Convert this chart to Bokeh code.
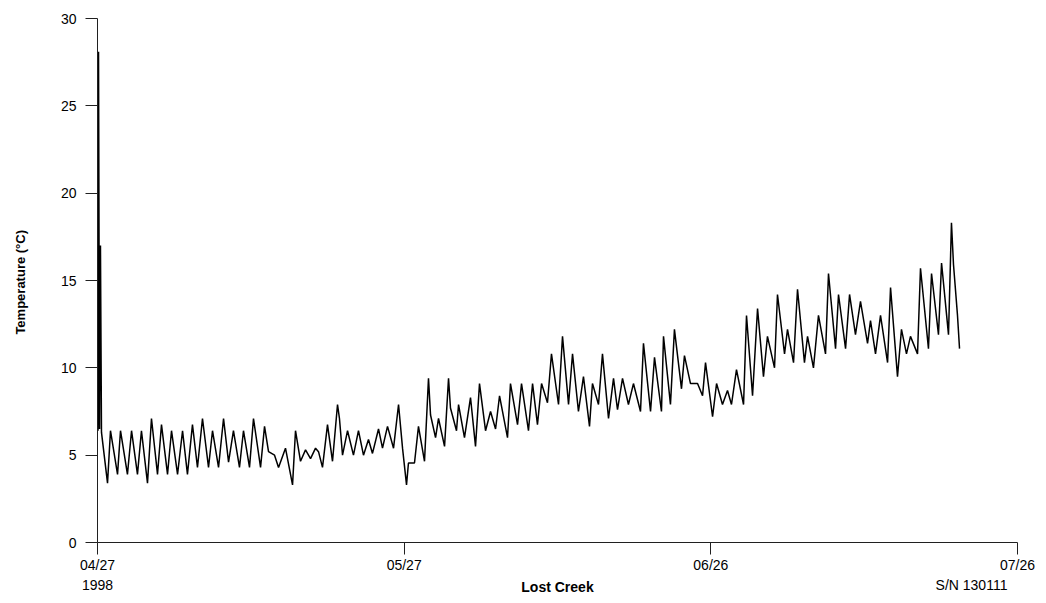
from bokeh.plotting import figure
from bokeh.models import FixedTicker, LinearAxis, Range1d
from bokeh.embed import file_html
from bokeh.resources import INLINE

# Logger readings: days since 04/27/1998 00:00 and water temperature (deg C)
days = [
    0.05, 0.10, 0.20, 0.29, 0.39, 0.98, 1.27, 1.96, 2.25, 2.93, 3.33, 3.91, 4.30, 4.89,
    5.28, 5.87, 6.26, 6.85, 7.24, 7.83, 8.32, 8.80, 9.29, 9.78, 10.27, 10.86, 11.25,
    11.84, 12.33, 12.82, 13.30, 13.89, 14.28, 14.87, 15.26, 15.95, 16.34, 16.73, 17.32,
    17.71, 18.39, 19.08, 19.37, 19.86, 20.35, 20.84, 21.33, 21.62, 22.01, 22.50, 22.99,
    23.48, 23.67, 23.97, 24.46, 25.04, 25.53, 26.02, 26.51, 26.90, 27.49, 27.88, 28.37,
    28.96, 29.45, 29.84, 30.23, 30.42, 31.01, 31.40, 31.99, 32.38, 32.58, 33.07, 33.36,
    33.95, 34.34, 34.53, 35.12, 35.32, 35.90, 36.49, 36.98, 37.37, 37.96, 38.45, 38.94,
    39.33, 40.11, 40.40, 41.09, 41.48, 42.16, 42.56, 43.04, 43.44, 44.02, 44.41, 45.10,
    45.49, 46.08, 46.47, 47.05, 47.54, 48.13, 48.42, 49.01, 49.40, 49.99, 50.48, 50.87,
    51.36, 51.94, 52.43, 53.12, 53.41, 54.10, 54.49, 55.17, 55.37, 56.05, 56.44, 57.13,
    57.42, 58.01, 58.70, 59.19, 59.48, 60.17, 60.56, 61.14, 61.63, 62.02, 62.51, 63.20,
    63.49, 64.08, 64.57, 65.15, 65.54, 66.23, 66.52, 67.21, 67.50, 68.09, 68.48, 69.16,
    69.46, 70.04, 70.53, 71.22, 71.51, 72.20, 72.49, 73.18, 73.57, 74.15, 74.64, 75.33,
    75.62, 76.11, 76.60, 77.29, 77.58, 78.26, 78.65, 79.14, 79.53, 80.22, 80.51, 81.29,
    81.59, 82.27, 82.57, 83.25, 83.54, 83.74, 84.13, 84.33,
]
temps = [
    6.4, 28.1, 6.5, 17.0, 6.3, 3.4, 6.4, 3.9, 6.4, 3.9, 6.4, 3.9, 6.4, 3.4,
    7.1, 3.9, 6.75, 3.9, 6.4, 3.9, 6.4, 3.9, 6.75, 4.3, 7.1, 4.3, 6.4,
    4.3, 7.1, 4.6, 6.4, 4.3, 6.4, 4.3, 7.1, 4.3, 6.65, 5.2, 5.0,
    4.3, 5.4, 3.3, 6.4, 4.65, 5.3, 4.8, 5.4, 5.2, 4.3, 6.75, 4.65,
    7.9, 7.1, 5.0, 6.4, 5.0, 6.4, 5.0, 5.9, 5.1, 6.5, 5.4, 6.65,
    5.4, 7.9, 5.4, 3.3, 4.55, 4.55, 6.65, 4.65, 9.4, 7.3, 6.0, 7.1,
    5.5, 9.4, 7.7, 6.4, 7.9, 6.0, 8.3, 5.5, 9.1, 6.4, 7.5, 6.5,
    8.4, 6.0, 9.1, 6.75, 9.1, 6.4, 9.1, 6.75, 9.1, 8.0, 10.8, 7.9,
    11.8, 7.9, 10.8, 7.5, 9.5, 6.65, 9.1, 7.9, 10.8, 7.1, 9.4, 7.6,
    9.4, 7.9, 9.1, 7.5, 11.4, 7.5, 10.6, 7.5, 11.8, 7.9, 12.2, 8.8,
    10.7, 9.1, 9.1, 8.4, 10.3, 7.2, 9.1, 7.9, 8.7, 7.9, 9.9, 7.9,
    13.0, 8.4, 13.4, 9.5, 11.8, 10.0, 14.2, 10.8, 12.2, 10.3, 14.5, 10.3,
    11.8, 10.0, 13.0, 10.8, 15.4, 11.1, 14.2, 11.1, 14.2, 11.9, 13.8, 11.4,
    12.7, 10.8, 13.0, 10.3, 14.6, 9.5, 12.2, 10.8, 11.8, 10.8, 15.7, 11.1,
    15.4, 11.9, 16.0, 11.9, 18.3, 15.9, 13.0, 11.1,
]

tick_days = [0, 30, 60, 90]
tick_labels = ["04/27", "05/27", "06/26", "07/26"]
y_ticks = [0, 5, 10, 15, 20, 25, 30]
year_label = "1998"
site_name = "Lost Creek"
serial_label = "S/N 130111"

FONT = "Liberation Sans"

p = figure(width=1046, height=603, output_backend="svg", toolbar_location=None,
           x_range=Range1d(0, 90), y_range=Range1d(0, 30),
           min_border_left=97, min_border_right=29, min_border_top=18,
           min_border_bottom=61, background_fill_color="white",
           border_fill_color="white", outline_line_color=None)

p.line(days, temps, line_color="black", line_width=1.5)

p.xgrid.visible = False
p.ygrid.visible = False

for ax in (p.xaxis[0], p.yaxis[0]):
    ax.axis_line_color = "#202020"
    ax.axis_line_width = 1
    ax.major_tick_line_color = "#202020"
    ax.minor_tick_line_color = None
    ax.major_tick_in = 0
    ax.major_label_text_font = FONT
    ax.major_label_text_font_size = "14px"
    ax.major_label_text_color = "black"

p.xaxis.ticker = FixedTicker(ticks=tick_days)
p.xaxis.major_label_overrides = dict(zip(tick_days, tick_labels))
p.xaxis.major_tick_out = 12
p.xaxis.major_label_standoff = 2

p.yaxis.ticker = FixedTicker(ticks=y_ticks)
p.yaxis.major_tick_out = 12
p.yaxis.major_label_standoff = 9
p.yaxis.axis_label = "Temperature  (°C)"
p.yaxis.axis_label_text_font = FONT
p.yaxis.axis_label_text_font_style = "bold"
p.yaxis.axis_label_text_font_size = "13px"
p.yaxis.axis_label_text_color = "black"
p.yaxis.axis_label_standoff = 30

# Second text row under the dates: year, site name, logger serial.
# A pixel-scaled helper range lets the serial sit left of the last tick.
p.extra_x_ranges = {"row2": Range1d(0, 920)}
row2 = LinearAxis(x_range_name="row2",
                  ticker=FixedTicker(ticks=[0, 874]),
                  major_label_overrides={0: year_label, 874: serial_label},
                  axis_line_color=None, major_tick_line_color=None,
                  minor_tick_line_color=None, major_tick_out=0, major_tick_in=0,
                  major_label_standoff=1,
                  major_label_text_font=FONT, major_label_text_font_size="14px",
                  major_label_text_color="black",
                  axis_label=site_name, axis_label_text_font=FONT,
                  axis_label_text_font_style="bold",
                  axis_label_text_font_size="14px",
                  axis_label_text_color="black",
                  axis_label_standoff=-17)
p.add_layout(row2, "below")

open("out.html", "w").write(file_html(p, INLINE))
